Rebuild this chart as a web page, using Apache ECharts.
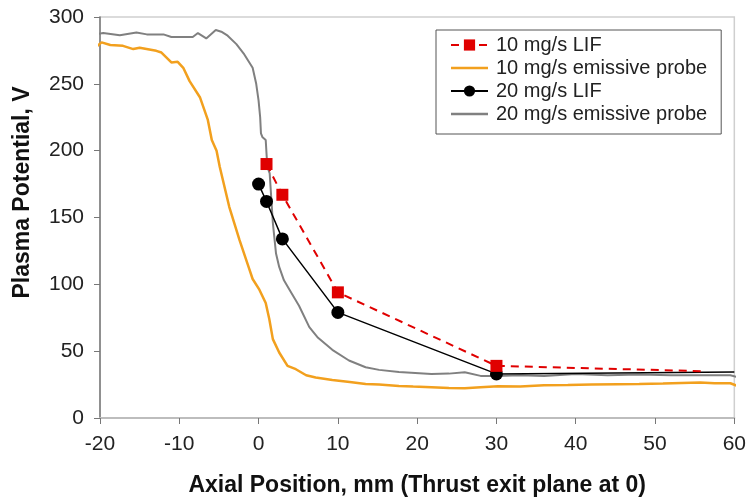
<!DOCTYPE html>
<html>
<head>
<meta charset="utf-8">
<script src="https://cdn.jsdelivr.net/npm/echarts@6/dist/echarts.min.js"></script>
<style>
  html, body { margin: 0; padding: 0; background: #fff; }
  #chart { width: 749px; height: 502px; }
</style>
</head>
<body>
<div id="chart"></div>
<script>
// axis ticks
var xTicks = [-20, 60, 10];   // min, max, step
var yTicks = [0, 300, 50];

// LIF measurements (marked points)
var lif10X = [1, 3, 10, 30];
var lif10Y = [190, 167, 94, 39];
var lif10Tail = [56, 35];      // unmarked dashed extension
var lif20X = [0, 1, 3, 10, 30];
var lif20Y = [175, 162, 134, 79, 33];
var lif20Tail = [60, 34.5];    // unmarked solid extension

// emissive probe traces [x, V]
var probe10 = [
  [-20.6, 277], [-19.8, 281], [-18.7, 279], [-17.1, 278.4], [-15.8, 276], [-15, 277],
  [-12.9, 274.7], [-12.25, 273.4], [-11, 266], [-10.2, 266.5], [-9.5, 262], [-8.7, 252],
  [-7.4, 240], [-6.4, 223], [-5.9, 208], [-5.3, 200], [-4.9, 188], [-3.7, 158],
  [-2.4, 133], [-1.2, 112], [-0.75, 104], [0.1, 96], [0.9, 86], [1.35, 74], [1.8, 59],
  [2.6, 49], [3.65, 39], [4.7, 36.5], [6, 32], [7.2, 30.3], [9.3, 28.5], [11.5, 27],
  [13.5, 25.5], [15.2, 25], [17.7, 24], [19.5, 23.5], [21.8, 23], [24, 22.5], [26, 22.3],
  [28, 23], [30.2, 23.8], [33, 23.5], [36, 24.5], [39, 24.6], [42, 25], [45.3, 25.3],
  [48, 25.5], [51, 25.8], [55.7, 26.5], [57.5, 26], [59.5, 26], [60.4, 24]
];
var probe20 = [
  [-20.6, 287], [-19.6, 288], [-17.5, 286.4], [-15.4, 288.4], [-14.1, 287], [-12, 287],
  [-11, 285], [-8.3, 285], [-7.65, 288], [-6.6, 284], [-5.4, 290.3], [-4.7, 289],
  [-3.9, 286], [-2.8, 279.7], [-1.8, 272], [-0.75, 262], [-0.3, 250], [0, 237.5],
  [0.2, 225], [0.3, 213], [0.5, 210], [0.9, 208], [1.1, 188], [1.4, 183], [1.8, 146],
  [2.2, 123], [2.6, 113], [3.2, 103], [3.9, 96], [5.1, 84], [6.4, 68], [7.5, 60], [9.3, 51],
  [11.4, 43], [13.5, 38], [15.2, 36], [17.7, 34.5], [21.8, 33], [24, 33.2], [26, 34.2],
  [28, 31.5], [30, 31.5], [33, 32], [36, 31.5], [40, 33], [44, 32], [48, 32.5],
  [52, 32], [56, 32], [59.5, 32], [60.4, 30.5]
];

function pts(xs, ys, tail) {
  var d = xs.map(function (x, i) { return [x, ys[i]]; });
  d.push({ value: tail, symbol: 'none' });
  return d;
}

// plain line legend icon (tiny corner specks keep the bounding box full size)
var lineIcon = 'path://M0,0 L0.05,0 L0.05,0.05 Z M0,5.8 L37,5.8 L37,8.2 L0,8.2 Z M37,14 L36.95,14 L36.95,13.95 Z';

var font = 'Arial, "Liberation Sans", sans-serif';
var myChart = echarts.init(document.getElementById('chart'));

var option = {
  animation: false,
  backgroundColor: '#ffffff',
  grid: {
    left: 100, right: 12, top: 17, bottom: 83,
    show: true, borderColor: '#cfcfcf', borderWidth: 1.5
  },
  legend: {
    orient: 'vertical',
    left: 436, top: 30,
    padding: [5, 14, 10, 14],
    itemWidth: 37, itemHeight: 14, itemGap: 3,
    borderColor: '#555', borderWidth: 1,
    backgroundColor: '#fff',
    textStyle: { fontFamily: font, fontSize: 20, color: '#222', padding: [0, 0, 0, 3] },
    data: [
      { name: '10 mg/s LIF', icon: 'inherit' },
      { name: '10 mg/s emissive probe', icon: lineIcon },
      { name: '20 mg/s LIF', icon: 'inherit' },
      { name: '20 mg/s emissive probe', icon: lineIcon }
    ]
  },
  xAxis: {
    type: 'value',
    min: xTicks[0], max: xTicks[1], interval: xTicks[2],
    name: 'Axial Position, mm (Thrust exit plane at 0)',
    nameLocation: 'middle', nameGap: 56,
    nameTextStyle: { fontFamily: font, fontSize: 23, fontWeight: 'bold', color: '#111' },
    axisLine: { lineStyle: { color: '#bdbdbd', width: 2 } },
    axisTick: { inside: false, length: 6, lineStyle: { color: '#777' } },
    axisLabel: { fontFamily: font, fontSize: 21, color: '#222', margin: 16 },
    splitLine: { show: false }
  },
  yAxis: {
    type: 'value',
    min: yTicks[0], max: yTicks[1], interval: yTicks[2],
    name: 'Plasma Potential, V',
    nameLocation: 'middle', nameGap: 66,
    nameTextStyle: { fontFamily: font, fontSize: 23, fontWeight: 'bold', color: '#111', padding: [0, 0, 0, 50] },
    axisLine: { show: true, onZero: false, lineStyle: { color: '#777', width: 1.5 } },
    axisTick: { show: true, inside: false, length: 6, lineStyle: { color: '#777' } },
    axisLabel: { fontFamily: font, fontSize: 21, color: '#222', margin: 16 },
    splitLine: { show: false }
  },
  series: [{
    name: '10 mg/s emissive probe',
    type: 'line',
    data: probe10,
    symbol: 'none',
    clip: false,
    lineStyle: { color: '#f2a01e', width: 2.5 },
    itemStyle: { color: '#f2a01e' },
    z: 2
  }, {
    name: '20 mg/s emissive probe',
    type: 'line',
    data: probe20,
    symbol: 'none',
    clip: false,
    lineStyle: { color: '#808080', width: 2 },
    itemStyle: { color: '#808080' },
    z: 2
  }, {
    name: '20 mg/s LIF',
    type: 'line',
    data: pts(lif20X, lif20Y, lif20Tail),
    symbol: 'circle', symbolSize: 13,
    lineStyle: { color: '#000', width: 1.5 },
    itemStyle: { color: '#000' },
    z: 3
  }, {
    name: '10 mg/s LIF',
    type: 'line',
    data: pts(lif10X, lif10Y, lif10Tail),
    symbol: 'rect', symbolSize: 12,
    lineStyle: { color: '#e00000', width: 2, type: [8, 6] },
    itemStyle: { color: '#e00000' },
    z: 4
  }]
};

myChart.setOption(option);
</script>
</body>
</html>
